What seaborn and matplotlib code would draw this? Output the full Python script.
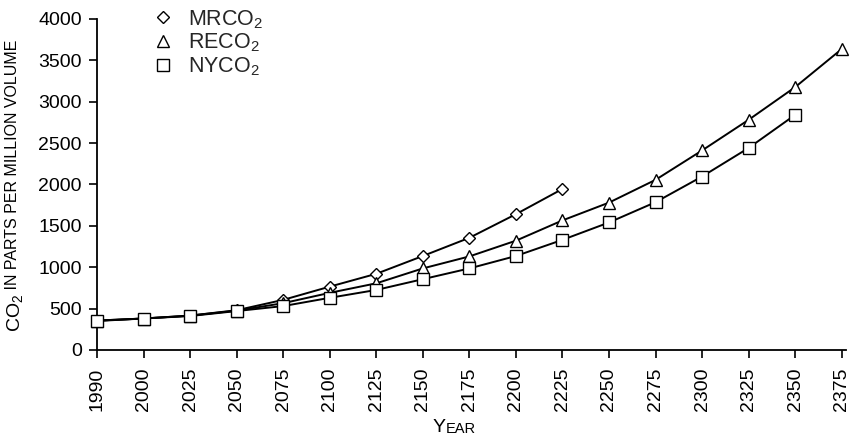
import numpy as np
import pandas as pd
import matplotlib
matplotlib.use("Agg")
import matplotlib.pyplot as plt
from matplotlib.lines import Line2D
import seaborn as sns

years = ["1990", "2000", "2025", "2050", "2075", "2100", "2125", "2150", "2175",
         "2200", "2225", "2250", "2275", "2300", "2325", "2350", "2375"]
mrco2 = [355, 380, 415, 480, 605, 765, 920, 1135, 1355, 1640, 1945]
reco2 = [355, 380, 415, 475, 565, 690, 805, 985, 1130, 1320, 1565, 1780, 2055,
         2410, 2780, 3175, 3635]
nyco2 = [350, 380, 410, 470, 530, 630, 725, 855, 985, 1135, 1330, 1540, 1785,
         2095, 2440, 2840]
yticks = [0, 500, 1000, 1500, 2000, 2500, 3000, 3500, 4000]

sns.set_theme(style="ticks")
plt.rcParams['font.family'] = ['Liberation Sans', 'DejaVu Sans']
plt.rcParams['mathtext.fontset'] = 'custom'
plt.rcParams['mathtext.rm'] = 'Liberation Sans'
plt.rcParams['mathtext.it'] = 'Liberation Sans'

fig = plt.figure(figsize=(8.51, 4.38), dpi=100)
ax = fig.add_axes([0.114, 0.201, 0.880, 0.756])

series = [("MRCO$_2$", mrco2, "D", 6.5),
          ("RECO$_2$", reco2, "^", 9),
          ("NYCO$_2$", nyco2, "s", 8)]
proxies = []
for name, vals, mk, ms in series:
    df = pd.DataFrame({"x": np.arange(len(vals)), "y": vals})
    sns.lineplot(data=df, x="x", y="y", ax=ax, color="black", linewidth=1.4,
                 marker=mk, markersize=ms, markerfacecolor="white",
                 markeredgecolor="black", markeredgewidth=1.0, zorder=3,
                 legend=False, clip_on=False)
    proxies.append(Line2D([], [], linestyle="None", marker=mk, markersize=ms,
                          markerfacecolor="white", markeredgecolor="black",
                          markeredgewidth=1.0, label=name))

ax.set_xlim(0, len(years) - 1 + 0.09)
ax.set_ylim(0, 4000)
ax.set_xticks(np.arange(len(years)))
ax.set_xticklabels(years, rotation=90, fontsize=14)
ax.set_yticks(yticks)
ax.set_yticklabels([str(v) for v in yticks], fontsize=14)
ax.tick_params(axis='both', direction='out', length=6, width=1.2, color='black',
               labelcolor='black')
ax.tick_params(axis='x', pad=6.5)
ax.tick_params(axis='y', pad=5)
for s in ["top", "right"]:
    ax.spines[s].set_visible(False)
for s in ["left", "bottom"]:
    ax.spines[s].set_color("black")
    ax.spines[s].set_linewidth(1.3)
ax.set_xlabel("")
ax.set_ylabel("")
ax.grid(False)

leg = ax.legend(handles=proxies, loc="upper left",
                bbox_to_anchor=(151 / 851, 1 - 8 / 438),
                bbox_transform=fig.transFigure, frameon=False, fontsize=15.5,
                handlelength=1.15, handletextpad=0.55, labelspacing=0.05,
                borderpad=0, borderaxespad=0)

# x label with small caps look
tY = fig.text(433 / 851, 1 - 432 / 438, "Y", fontsize=14, color="black",
              ha="left", va="baseline")
fig.canvas.draw()
ax.annotate("EAR", xy=(1, 0), xycoords=tY, fontsize=10.5, color="black",
            ha="left", va="bottom")

# y label with small caps look
tCO = fig.text(5 / 851, 1 - 332 / 438, "CO$_2$", fontsize=14, color="black",
               rotation=90, ha="left", va="bottom")
fig.canvas.draw()
ax.annotate(" IN PARTS PER MILLION VOLUME", xy=(0.0, 1), xycoords=tCO,
            fontsize=11.5, color="black", rotation=90, ha="left", va="bottom")

fig.savefig("out.png", dpi=100)
